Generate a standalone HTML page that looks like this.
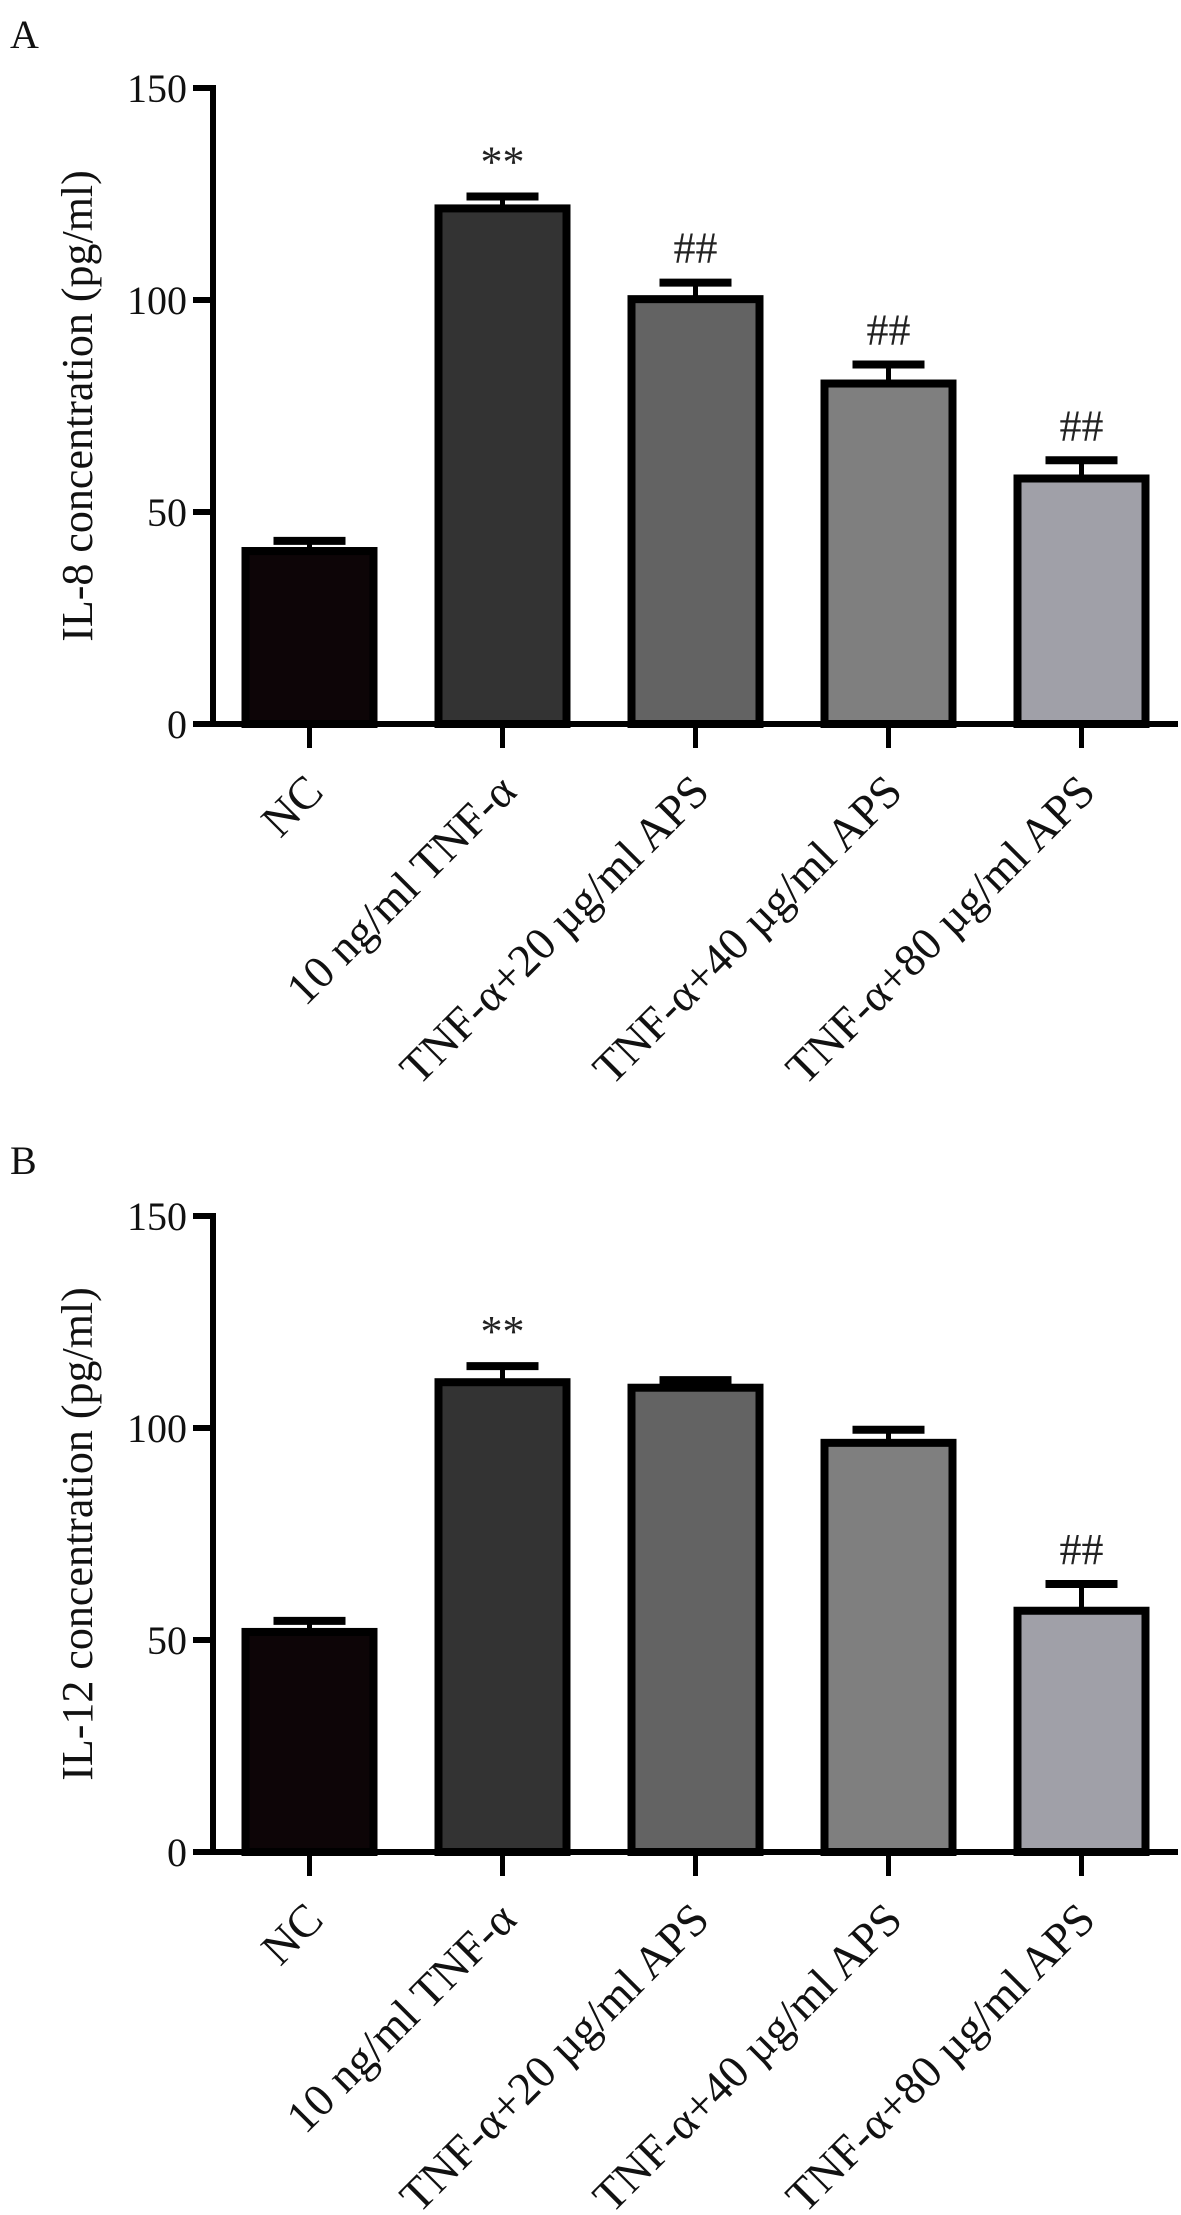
<!DOCTYPE html>
<html><head><meta charset="utf-8"><style>
html,body{margin:0;padding:0;background:#fff;}
svg{display:block;font-family:"Liberation Serif","DejaVu Serif",serif;}
</style></head><body>
<svg id="chart" width="1181" height="2215" viewBox="0 0 1181 2215" xmlns="http://www.w3.org/2000/svg"></svg>
<script>
const categories = ["NC","10 ng/ml TNF-\u03b1","TNF-\u03b1+20 \u00b5g/ml APS","TNF-\u03b1+40 \u00b5g/ml APS","TNF-\u03b1+80 \u00b5g/ml APS"];
const il8Values = [40.8, 121.6, 100.2, 80.3, 57.9];
const il8Errors = [2.4, 2.8, 3.9, 4.5, 4.3];
const il8Marks = ["", "**", "##", "##", "##"];
const il12Values = [51.9, 110.8, 109.5, 96.5, 56.9];
const il12Errors = [2.6, 3.8, 1.8, 3.1, 6.3];
const il12Marks = ["", "**", "", "", "##"];
const yTicks = [0, 50, 100, 150];
const barColors = ["#0d0507","#333333","#636363","#7f7f7f","#a0a0a8"];

const NS = "http://www.w3.org/2000/svg";
const svg = document.getElementById("chart");
function mk(tag, attrs, parent){ const e=document.createElementNS(NS,tag); for(const k in attrs) e.setAttribute(k,attrs[k]); (parent||svg).appendChild(e); return e; }

function panel(letter, letterY, y0, title, values, errors, marks, prefix){
  const g = mk("g",{});
  
  
  const axX = 213, axRight = 1178, yTop = y0, yBot = y0 + 636, maxV = 150;
  const yS = v => yBot - (v / maxV) * (yBot - yTop);
  const band = (axRight - axX) / categories.length;
  const xC = i => axX + band * (i + 0.5);

  const L = mk("text",{x:10,y:letterY,"font-size":40,fill:"#111"},g); L.textContent = letter;
  
  

  const t = mk("text",{x:0,y:0,"font-size":44,fill:"#111","text-anchor":"middle",transform:`translate(92,${(yTop+yBot)/2}) rotate(-90)`},g);
  t.textContent = title;
  
  

  values.forEach((v,i)=>{
    const cx = xC(i), top = yS(v), cap = yS(v+errors[i]);
    const eb = mk("g",{},g);
    
    
    mk("line",{x1:cx,x2:cx,y1:top,y2:cap,stroke:"#000","stroke-width":5},eb);
    mk("line",{x1:cx-36,x2:cx+36,y1:cap,y2:cap,stroke:"#000","stroke-width":8},eb);
    const r = mk("rect",{x:cx-64,y:top,width:128,height:yBot-top,fill:barColors[i],stroke:"#000","stroke-width":8},g);
    
    
    if(marks[i]){
      const m = mk("text",{x:cx,y:cap-20,"font-size":44,fill:"#222","text-anchor":"middle"},g);
      m.textContent = marks[i];
      
      
    }
    const tk = mk("line",{x1:cx,x2:cx,y1:yBot,y2:yBot+24,stroke:"#000","stroke-width":5},g);
    
    
    const lab = mk("text",{x:0,y:0,"font-size":46,fill:"#111","text-anchor":"end",transform:`translate(${cx+16},${yBot+70}) rotate(-45)`},g);
    lab.textContent = categories[i];
    
    
  });

  const ya = mk("line",{x1:axX,x2:axX,y1:yTop-3,y2:yBot+3,stroke:"#000","stroke-width":6},g);
  
  
  const xa = mk("line",{x1:axX-3,x2:axRight,y1:yBot,y2:yBot,stroke:"#000","stroke-width":6},g);
  
  
  yTicks.forEach(v=>{
    const y = yS(v);
    const tl = mk("line",{x1:axX-20,x2:axX,y1:y,y2:y,stroke:"#000","stroke-width":6},g);
    
    
    const tx = mk("text",{x:axX-26,y:y+14,"font-size":40,fill:"#111","text-anchor":"end"},g);
    tx.textContent = v;
    
    
  });
}

panel("A", 48, 88, "IL-8 concentration (pg/ml)", il8Values, il8Errors, il8Marks, "il8");
panel("B", 1174, 1216, "IL-12 concentration (pg/ml)", il12Values, il12Errors, il12Marks, "il12");
</script>
</body></html>
